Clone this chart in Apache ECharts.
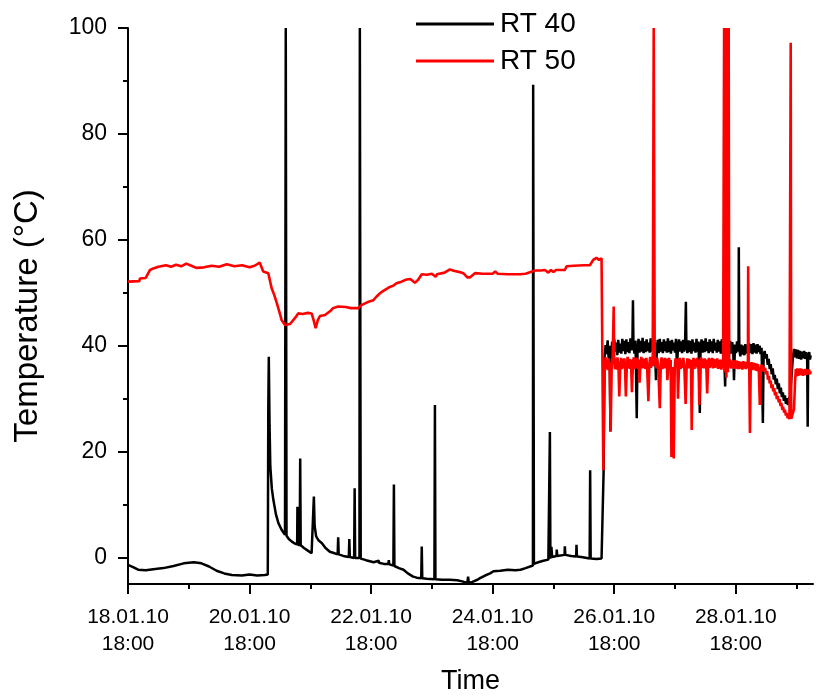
<!DOCTYPE html>
<html lang="en">
<head>
    <meta charset="UTF-8">
    <title>RT 40 / RT 50 temperature</title>
    <script src="https://cdn.jsdelivr.net/npm/echarts@6/dist/echarts.min.js"></script>
    <style>
        body { margin: 0; background: #fff; }
    </style>
</head>
<body>
<div id="main" style="width: 817px;height:698px;"></div>
<script type="text/javascript">
    // hours counted from 18.01.10 18:00
    var xTickLabels = ['18.01.10\n18:00', '20.01.10\n18:00', '22.01.10\n18:00',
        '24.01.10\n18:00', '26.01.10\n18:00', '28.01.10\n18:00'];
    var xMajorTicks = [0, 48, 96, 144, 192, 240];
    var xMinorTicks = [24, 72, 120, 168, 216, 264];
    var yMajorTicks = [0, 20, 40, 60, 80, 100];
    var yMinorTicks = [10, 30, 50, 70, 90];

    // RT 40 [hour, temperature]
    var rt40 = [
        [0,-1.4],[2,-1.8],[4,-2.3],[7,-2.4],[10,-2.2],[14,-2.0],[18,-1.6],[22,-1.1],[26,-0.9],[29,-1.1],
        [32,-1.7],[35,-2.5],[38,-3.0],[41,-3.3],[45,-3.4],[48,-3.2],[51,-3.4],[54,-3.3],[55.2,-3.2],
        [55.4,28],[55.6,37.9],[55.9,25],[56.2,17.2],[56.8,13],[57.4,10.9],[58.4,8.2],[59.4,6.5],[60.7,5.2],
        [62,4.3],[62.2,4.2],[62.3,100],[62.45,100],[62.6,4.1],[63.5,3.5],[64.7,3.0],[66,2.6],[66.8,2.5],
        [66.9,9.6],[67.0,2.5],[67.8,2.3],[68.0,18.7],[68.2,2.3],[69.5,1.8],[71,1.3],[72.5,0.8],[73.2,0.7],
        [73.4,11.5],[73.7,6],[74.3,4],[75.3,3.2],[76.6,2.7],[78,1.8],[79.7,1.1],[81,0.9],[82.8,0.6],
        [83,3.8],[83.2,0.6],[85,0.3],[87.2,0.1],[87.4,3.5],[87.6,0.1],[89.3,-0.1],[89.5,13.1],[89.7,-0.1],
        [91.4,-0.1],[91.55,100],[91.75,100],[91.9,-0.2],[94,-0.5],[97,-0.9],[99,-0.6],[99.1,-1.0],[101,-1.2],
        [102.8,-1.2],[103,-0.5],[103.2,-1.3],[104.8,-1.5],[105,13.8],[105.2,-1.6],[107,-2.0],[108.8,-2.3],
        [110.5,-3.0],[112.6,-3.6],[114,-3.8],[115.8,-3.9],[116,2.1],[116.2,-3.9],[118,-4.0],[121,-4.1],
        [121.2,28.8],[121.4,-4.1],[124,-4.2],[127,-4.2],[130,-4.3],[132,-4.5],[134,-4.8],[134.3,-3.6],
        [134.6,-4.8],[136,-4.6],[138,-4.2],[139,-3.9],[141,-3.4],[143,-3.0],[144.3,-2.6],[147,-2.5],
        [150,-2.3],[153,-2.4],[155,-2.3],[157,-2.0],[159.9,-1.5],[160.0,89.3],[160.15,89.3],[160.3,-1.2],
        [162,-0.9],[164,-0.6],[166,-0.4],[166.6,23.7],[166.8,-0.2],[167.2,2],[167.5,0.1],[169.2,0.3],
        [169.3,1.5],[169.5,0.3],[172.4,0.5],[172.5,2.1],[172.7,0.5],[175,0.3],[177,0.2],[177.1,2.4],
        [177.3,0.2],[179,0.1],[182.3,-0.2],[182.5,16.5],[182.7,-0.2],[185,-0.3],[187,-0.2],[187.4,0],
        [187.8,16],[188.2,38],[188.6,40.1],[189,38.4],[189.4,41],[189.8,37.6],[190.2,40],[190.5,23.8],
        [190.8,38],[191.2,40.8],[191.6,38.3],[192,41.2],[192.4,38.9],[192.8,40.6],[193.2,38.2],[193.6,41.1],
        [194,38.7],[194.4,40.4],[194.8,38.5],[195.2,41.3],[195.6,39],[196,40.9],[196.4,38.4],[196.8,41.2],
        [197.2,38.8],[197.6,40.7],[198,38.6],[198.4,41.4],[198.8,39.1],[199.2,41],[199.4,48.6],[199.6,40],
        [200,38.5],[200.4,41],[200.9,26.3],[201.2,39],[201.6,41.3],[202,38.7],[202.4,40.9],[202.8,38.9],
        [203.2,41.5],[203.6,38.6],[204,40.8],[204.4,38.8],[204.8,41.2],[205.2,39],[205.6,40.6],[206,38.7],
        [206.4,41.4],[206.8,38.9],[207.2,41],[207.6,38.5],[208,40.7],[208.5,33.5],[208.8,39.2],[209.2,41.1],
        [209.6,38.6],[210,41.3],[210.4,38.9],[210.8,40.7],[211.2,38.6],[211.6,41.2],[212,39],[212.4,40.8],
        [212.8,38.7],[213.2,41.4],[213.6,38.8],[214,40.9],[214.4,38.5],[214.8,41.1],[215.2,39.1],[215.6,40.6],
        [216,38.7],[216.4,41.3],[216.8,36],[217.2,39.8],[217.6,41.2],[218,38.9],[218.4,40.8],[218.8,38.6],
        [219.2,41.1],[219.6,38.9],[220,40.7],[220.3,48.3],[220.5,40],[220.9,38.6],[221.3,41],[221.7,38.8],
        [222.1,40.9],[222.5,38.5],[222.9,41.2],[223.3,39],[223.7,40.6],[224.1,38.7],[224.5,41.3],[224.9,38.9],
        [225.3,40.8],[225.8,27.3],[226.1,39.5],[226.5,41.2],[226.9,38.7],[227.3,40.9],[227.7,38.8],[228.1,41.4],
        [228.5,39],[228.9,40.7],[229.3,38.6],[229.7,41.2],[230.1,38.9],[230.5,40.8],[230.9,38.6],[231.3,41.3],
        [231.7,39.1],[232.1,40.6],[232.5,38.7],[232.9,41.1],[233.3,38.9],[233.7,40.8],[234.1,38.5],[234.5,41.2],
        [234.9,39],[235.3,40.6],[235.8,32.3],[236.2,40.3],[236.6,38.7],[237,41],[237.4,38.8],[237.8,40.9],
        [238.2,38.5],[238.6,40.7],[239,38.9],[239.3,33.5],[239.7,40.2],[240.1,38.6],[240.5,40.8],[240.9,38.9],
        [241.1,40],[241.2,58.6],[241.4,39.5],[241.8,38],[242.2,40.2],[242.6,38.3],[243,40],[243.4,38.2],
        [243.8,40.3],[244.2,38.5],[244.6,40.1],[245,38.3],[245.4,40.4],[245.8,38.6],[246.2,40.3],[246.6,38.4],
        [247,40.5],[247.4,38.7],[247.8,40.2],[248.2,38.5],[248.6,40.3],[249,38.8],[249.4,40],[249.8,38.4],
        [250.2,39.6],[250.7,25.4],[251,38.3],[251.4,39],[251.8,37.6],[252.2,38.4],[252.6,36.4],[253,37.5],
        [253.4,35.6],[253.8,36.5],[254.2,34.6],[254.6,35.7],[255,33.6],[255.4,34.5],[255.8,32.7],[256.2,33.8],
        [256.6,31.8],[257,32.9],[257.4,31],[257.8,32.1],[258.2,30.3],[258.6,31.2],[259,29.6],[259.4,30.6],
        [259.8,29],[260.2,30.1],[260.6,28.8],[261,30],[261.5,30.5],[262,34],[262.5,37.5],[263,39.4],
        [263.4,37.8],[263.8,39.3],[264.2,37.6],[264.6,39.2],[265,37.5],[265.4,39],[265.8,37.4],[266.2,38.9],
        [266.6,37.6],[267,39],[267.4,37.5],[267.8,38.8],[268.2,37.4],[268.4,24.7],[268.6,37.6],[269,38.8],
        [269.3,37.4],[269.6,38.2]
    ];

    // RT 50 [hour, temperature]
    var rt50 = [
        [0,52.1],[4.5,52.2],[4.7,52.7],[7,52.8],[8.7,54.3],[10,54.6],[12,54.9],[15,55.2],[17,54.9],
        [19,55.3],[21,55],[23,55.5],[25,55.1],[27,54.7],[30,54.8],[33,55.1],[36,54.9],[39,55.4],[42,55.0],
        [45,55.2],[48,54.8],[50,55.1],[52,55.7],[53.4,54],[55.4,53.7],[56.7,50.9],[57.8,49.5],[58.8,48],
        [60,46],[60.7,44.8],[62,43.9],[64,44.1],[65.9,45.2],[67.2,46.1],[69,46],[71,46.2],[72.5,46.1],
        [73.2,45],[74.1,43.3],[75,44.9],[75.8,45.6],[77.8,45.8],[78.4,46],[80,46.6],[81,47.1],[83,47.4],
        [86,47.3],[88,47.1],[90.9,47.1],[92,47.6],[93.6,48],[95,48.3],[96.9,48.6],[98,49.2],[99.5,49.9],
        [101,50.4],[103.4,51.1],[105,51.4],[106,51.8],[108,52.1],[110,52.5],[111.5,52.6],[113.3,51.9],
        [114.5,52.4],[116,53.5],[118,53.4],[120,53.6],[121.5,53],[122,53.5],[125,53.8],[127.1,54.4],
        [129,54.1],[131,53.9],[132.4,53.7],[134,52.9],[135,52.9],[137,53.7],[140,53.6],[144,53.6],[145,54],
        [146,53.6],[150,53.5],[154.8,53.5],[157,53.6],[160.7,54.2],[163,54.2],[164.6,54.3],[166,53.8],
        [167,54.3],[168,53.9],[169,54.3],[172.5,54.3],[173.2,55],[176,55.1],[180,55.2],[182.4,55.2],
        [183.7,56.2],[185,56.6],[186,56.2],[187,56.5],[187.5,56.5],[187.7,16.5],[188,30],[188.3,36],
        [188.6,37.8],[188.9,35.6],[189.2,37.4],[189.5,35.4],[189.8,37.6],[190.2,35.8],[190.6,23.8],[191,36.5],
        [191.4,37.9],[191.8,47.4],[192,37],[192.3,35.6],[192.6,37.6],[193,35.5],[193.3,37.8],[193.7,35.9],
        [194,30.4],[194.4,36.2],[194.7,37.7],[195,35.6],[195.4,37.5],[195.7,35.8],[196,37.6],[196.3,35.5],
        [196.6,30.4],[197,36.3],[197.3,37.9],[197.6,35.7],[198,37.5],[198.3,35.6],[198.6,37.4],[199,31.2],
        [199.4,36.8],[199.7,37.8],[200,35.6],[200.4,37.5],[200.7,35.8],[201,37.7],[201.4,35.6],[201.7,37.4],
        [202,33],[202.4,36.4],[202.7,37.9],[203,35.7],[203.4,37.6],[203.7,35.8],[204,37.5],[204.3,35.6],
        [204.7,37.7],[205,35.9],[205.5,29.5],[205.9,36.6],[206.2,37.9],[206.5,35.8],[206.9,37.6],[207.2,36.1],
        [207.6,100],[207.8,100],[208,36.3],[208.3,37.8],[208.7,35.7],[209,37.6],[209.4,35.8],[210,28.2],
        [210.4,36.5],[210.7,37.8],[211,35.6],[211.4,37.5],[211.7,35.7],[212,37.7],[212.3,35.8],[212.7,37.6],
        [213,33.5],[213.4,36.2],[213.7,37.7],[214,35.7],[214.3,37.3],[214.6,19],[215,36],[215.5,18.7],
        [215.9,35.8],[216.2,37.6],[216.5,35.7],[216.9,37.5],[217.2,30],[217.6,36.4],[217.9,37.7],[218.3,35.6],
        [218.6,37.4],[219,35.8],[219.3,37.7],[219.7,35.9],[220.2,29],[220.6,36.1],[220.9,37.6],[221.3,35.7],
        [221.6,37.5],[222,35.9],[222.3,37.3],[222.6,24.1],[223,36.3],[223.3,37.7],[223.7,35.6],[224,37.5],
        [224.3,36],[224.7,37.7],[225,35.7],[225.3,37.4],[225.6,28.8],[226,36.4],[226.3,37.8],[226.7,35.8],
        [227,37.5],[227.4,35.7],[227.7,37.6],[228,35.8],[228.3,37.4],[228.7,31],[229.1,36.2],[229.4,37.7],
        [229.7,35.8],[230.1,37.5],[230.4,36],[230.7,37.7],[231,35.7],[231.4,37.5],[231.7,35.8],[232,37.4],
        [232.3,35.9],[232.7,37.6],[233,35.6],[233.3,37.3],[233.6,35.7],[234,37.4],[234.3,35.5],[234.7,37.1],
        [235,35.8],[235.4,100],[235.6,35],[236,100],[236.3,34],[236.6,100],[236.9,35],[237.2,100],
        [237.4,36.5],[237.7,37.4],[238,35.7],[238.4,37.2],[238.7,35.8],[239,37.1],[239.4,35.6],[239.7,37.3],
        [240,35.9],[240.4,37.2],[240.7,35.6],[241,37.1],[241.3,35.6],[241.7,37],[242,35.7],[242.3,36.9],
        [242.6,35.5],[243,37.1],[243.3,35.7],[243.7,36.9],[244,35.6],[244.4,37],[244.8,35.8],[244.9,55],
        [245.1,36],[245.3,36.8],[245.6,23.5],[245.9,35.6],[246.2,36.9],[246.5,35.4],[246.9,36.8],[247.2,35.5],
        [247.6,36.7],[247.9,35.3],[248.2,36.6],[248.5,35.2],[248.8,36.5],[249.1,35.4],[249.5,28.8],[249.9,35.6],
        [250.2,36.4],[250.5,35.2],[250.9,36.1],[251.2,35.1],[251.6,35.8],[252,34.6],[252.4,35.2],[252.7,33.6],
        [253.1,34.3],[253.4,32.9],[253.8,33.4],[254.1,32],[254.5,32.7],[254.8,31.4],[255.2,32],[255.5,30.6],
        [255.9,31.3],[256.2,29.9],[256.6,30.5],[257,29.3],[257.3,29.9],[257.7,28.6],[258,29.2],[258.4,27.9],
        [258.7,28.5],[259.1,27.4],[259.4,27.9],[259.8,26.8],[260.1,27.3],[260.5,26.3],[260.8,26.9],[261.2,26.1],
        [261.6,26],[261.7,97.2],[261.9,26.2],[262.4,26.5],[263,28],[263.4,33],[263.7,35.6],[264,34.2],
        [264.3,35.7],[264.6,34.3],[264.9,35.6],[265.2,34.4],[265.5,35.7],[265.8,34.5],[266.1,35.6],[266.5,34.3],
        [266.8,35.5],[267.2,34.4],[267.5,35.6],[267.9,34.5],[268.2,35.4],[268.6,34.6],[268.9,35.5],[269.3,34.6],
        [269.6,35.2]
    ];

    var font = 'Liberation Sans, Arial, sans-serif';
    var myChart = echarts.init(document.getElementById('main'));
    var option = {
        animation: false,
        backgroundColor: '#fff',
        textStyle: { fontFamily: font, color: '#000' },
        legend: {
            data: [{ name: 'RT 40', icon: 'rect' }, { name: 'RT 50', icon: 'rect' }],
            orient: 'vertical',
            left: 411,
            top: 5,
            itemWidth: 78,
            itemHeight: 3,
            itemGap: 9,
            textStyle: { fontSize: 28, color: '#000', fontFamily: font, padding: [0, 0, 0, 1] }
        },
        grid: { left: 128, right: 4, top: 28, bottom: 114, containLabel: false, outerBoundsMode: 'none' },
        xAxis: [
            {
                type: 'value',
                min: 0,
                max: 270.5,
                name: 'Time',
                nameLocation: 'middle',
                nameGap: 84,
                nameTextStyle: { fontSize: 27, color: '#000', fontFamily: font },
                axisLine: { onZero: false, lineStyle: { color: '#000', width: 2 } },
                axisTick: { customValues: xMajorTicks, length: 10, lineStyle: { color: '#000', width: 2 } },
                axisLabel: {
                    customValues: xMajorTicks,
                    margin: 20,
                    fontSize: 21,
                    lineHeight: 27,
                    color: '#000',
                    fontFamily: font,
                    formatter: function (v) {
                        return xTickLabels[Math.round(v / 48)];
                    }
                },
                splitLine: { show: false }
            },
            {
                type: 'value',
                position: 'bottom',
                min: 0,
                max: 270.5,
                axisLine: { show: false, onZero: false },
                axisTick: { customValues: xMinorTicks, length: 5, lineStyle: { color: '#000', width: 2 } },
                axisLabel: { show: false },
                splitLine: { show: false }
            }
        ],
        yAxis: [
            {
                type: 'value',
                min: -5,
                max: 100,
                name: 'Temperature (°C)',
                nameLocation: 'middle',
                nameGap: 84,
                nameTextStyle: { fontSize: 33, color: '#000', fontFamily: font, padding: [0, 20, 0, 0] },
                axisLine: { show: true, onZero: false, lineStyle: { color: '#000', width: 2 } },
                axisTick: { show: true, customValues: yMajorTicks, length: 10, lineStyle: { color: '#000', width: 2 } },
                axisLabel: { customValues: yMajorTicks, margin: 21, fontSize: 23, color: '#000', fontFamily: font },
                splitLine: { show: false }
            },
            {
                type: 'value',
                position: 'left',
                min: -5,
                max: 100,
                axisLine: { show: false, onZero: false },
                axisTick: { show: true, customValues: yMinorTicks, length: 5, lineStyle: { color: '#000', width: 2 } },
                axisLabel: { show: false },
                splitLine: { show: false }
            }
        ],
        series: [
            {
                name: 'RT 40',
                type: 'line',
                data: rt40,
                symbol: 'none',
                lineStyle: { color: '#000', width: 2.5 },
                itemStyle: { color: '#000' }
            },
            {
                name: 'RT 50',
                type: 'line',
                data: rt50,
                symbol: 'none',
                lineStyle: { color: '#ff0000', width: 2.6 },
                itemStyle: { color: '#ff0000' }
            }
        ]
    };
    myChart.setOption(option);
</script>
</body>
</html>
